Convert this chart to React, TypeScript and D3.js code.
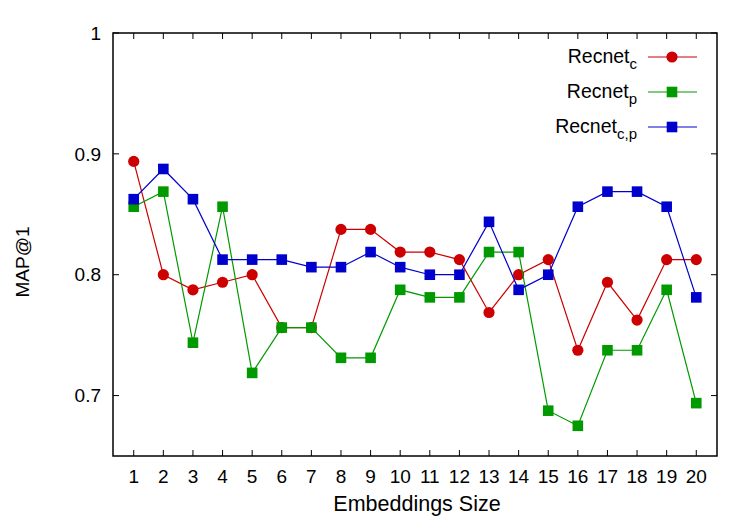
import React from 'react';
import * as d3 from 'd3';

const WIDTH = 750;
const HEIGHT = 525;
const margin = { l: 113, r: 33, t: 33, b: 69 };

const sizes = d3.range(1, 21);
const recnetC = [
  0.89375, 0.8, 0.7875, 0.79375, 0.8, 0.75625, 0.75625, 0.8375, 0.8375, 0.81875,
  0.81875, 0.8125, 0.76875, 0.8, 0.8125, 0.7375, 0.79375, 0.7625, 0.8125, 0.8125,
];
const recnetP = [
  0.85625, 0.86875, 0.74375, 0.85625, 0.71875, 0.75625, 0.75625, 0.73125, 0.73125, 0.7875,
  0.78125, 0.78125, 0.81875, 0.81875, 0.6875, 0.675, 0.7375, 0.7375, 0.7875, 0.69375,
];
const recnetCP = [
  0.8625, 0.8875, 0.8625, 0.8125, 0.8125, 0.8125, 0.80625, 0.80625, 0.81875, 0.80625,
  0.8, 0.8, 0.84375, 0.7875, 0.8, 0.85625, 0.86875, 0.86875, 0.85625, 0.78125,
];
const yTicks = [0.7, 0.8, 0.9, 1];

const series = [
  { name: 'Recnet', sub: 'c', values: recnetC, color: '#cc0000', shape: 'circle' },
  { name: 'Recnet', sub: 'p', values: recnetP, color: '#009a00', shape: 'square' },
  { name: 'Recnet', sub: 'c,p', values: recnetCP, color: '#0000cc', shape: 'square' },
];

const FONT = 'Liberation Sans, Arial, sans-serif';

const Marker = ({ x, y, shape, color }: { x: number; y: number; shape: string; color: string }) =>
  shape === 'circle' ? (
    <circle cx={x} cy={y} r={5.6} fill={color} />
  ) : (
    <rect x={x - 5.3} y={y - 5.3} width={10.6} height={10.6} fill={color} />
  );

const App = () => {
  const w = WIDTH - margin.l - margin.r;
  const h = HEIGHT - margin.t - margin.b;

  const x = d3.scaleLinear().domain([0.3, 20.7]).range([0, w]);
  const y = d3.scaleLinear().domain([0.65, 1]).range([h, 0]);

  const line = (vals: number[]) =>
    d3
      .line<number>()
      .x((_, i) => x(sizes[i]))
      .y((d) => y(d))(vals) as string;

  const tick = 6;

  return (
    <svg
      width={WIDTH}
      height={HEIGHT}
      style={{ position: 'absolute', left: 0, top: 0, background: '#fff' }}
      fontFamily={FONT}
    >
      <rect width={WIDTH} height={HEIGHT} fill="#fff" />
      <g transform={`translate(${margin.l},${margin.t})`}>
        {/* y ticks */}
        {yTicks.map((t) => (
          <g key={`y${t}`}>
            <line x1={0} x2={tick} y1={y(t)} y2={y(t)} stroke="#000" />
            <line x1={w} x2={w - tick} y1={y(t)} y2={y(t)} stroke="#000" />
            <text x={-12} y={y(t)} dy="0.35em" textAnchor="end" fontSize={19}>
              {d3.format('')(t)}
            </text>
          </g>
        ))}
        {/* x ticks */}
        {sizes.map((s) => (
          <g key={`x${s}`}>
            <line x1={x(s)} x2={x(s)} y1={h} y2={h - tick} stroke="#000" />
            <line x1={x(s)} x2={x(s)} y1={0} y2={tick} stroke="#000" />
            <text x={x(s)} y={h + 27} textAnchor="middle" fontSize={19}>
              {s}
            </text>
          </g>
        ))}

        {series.map((s) => (
          <g key={s.sub}>
            <path d={line(s.values)} fill="none" stroke={s.color} strokeWidth={1.2} />
            {s.values.map((v, i) => (
              <Marker key={i} x={x(sizes[i])} y={y(v)} shape={s.shape} color={s.color} />
            ))}
          </g>
        ))}

        <rect x={0} y={0} width={w} height={h} fill="none" stroke="#000" strokeWidth={1.5} />

        {/* legend */}
        {series.map((s, i) => {
          const ly = 24 + i * 35;
          return (
            <g key={`lg${s.sub}`}>
              <text x={524} y={ly + 6} textAnchor="end" fontSize={19.5}>
                {s.name}
                <tspan fontSize={15} dy={6}>
                  {s.sub}
                </tspan>
              </text>
              <line x1={535} x2={584} y1={ly} y2={ly} stroke={s.color} strokeWidth={1.2} />
              <Marker x={559} y={ly} shape={s.shape} color={s.color} />
            </g>
          );
        })}

        <text x={w / 2 + 2} y={h + 55} textAnchor="middle" fontSize={21.5}>
          Embeddings Size
        </text>
        <text
          transform={`translate(${-84},${229}) rotate(-90)`}
          textAnchor="middle"
          fontSize={19}
        >
          MAP@1
        </text>
      </g>
    </svg>
  );
};

export default App;
